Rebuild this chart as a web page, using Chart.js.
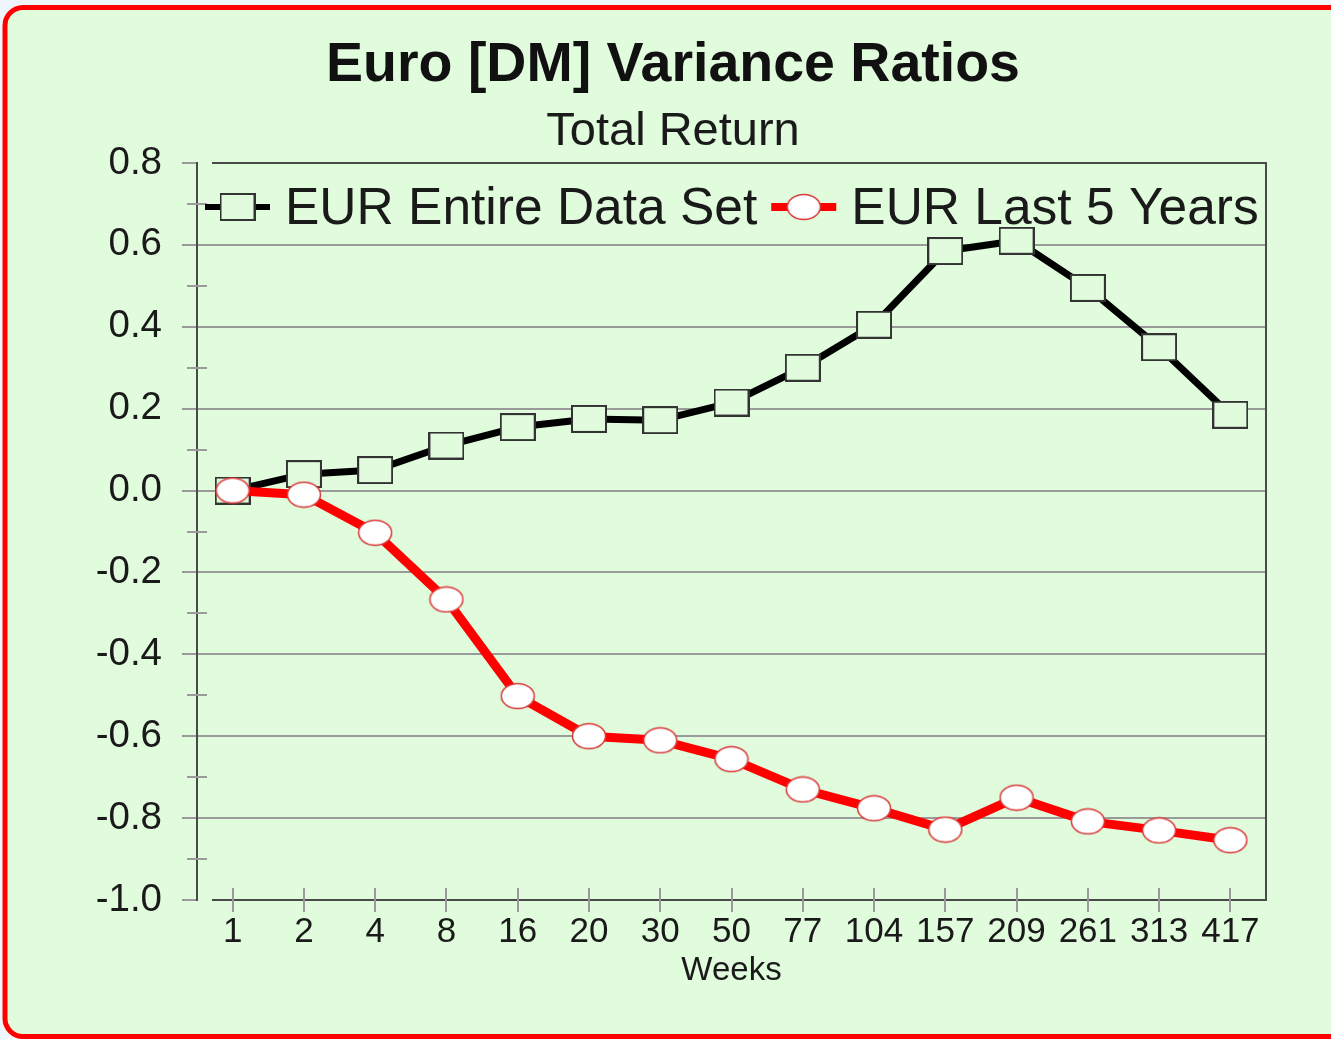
<!DOCTYPE html>
<html>
<head>
<meta charset="utf-8">
<script src="https://cdn.jsdelivr.net/npm/chart.js@4/dist/chart.umd.min.js"></script>
<style>
  html, body { margin: 0; padding: 0; overflow: hidden; background: #eef6fb; }
  #wrap { position: relative; width: 1331px; height: 1039px; }
</style>
</head>
<body>
<div id="wrap"><canvas id="c"></canvas></div>
<script>
// ---- data ----
const weeks = ['1','2','4','8','16','20','30','50','77','104','157','209','261','313','417'];
const entireDataSet = [0.00, 0.04, 0.05, 0.11, 0.155, 0.175, 0.172, 0.215, 0.30, 0.405, 0.585, 0.61, 0.495, 0.35, 0.185];
const last5Years   = [0.00, -0.01, -0.103, -0.266, -0.502, -0.60, -0.61, -0.656, -0.73, -0.776, -0.828, -0.75, -0.808, -0.83, -0.854];
const seriesLabels = ['EUR Entire Data Set', 'EUR Last 5 Years'];
const yMin = -1.0, yMax = 0.8, yStep = 0.2;
const yMinorTicks = [-0.9, -0.7, -0.5, -0.3, -0.1, 0.1, 0.3, 0.5, 0.7];
const chartTitle = 'Euro [DM] Variance Ratios';
const chartSubtitle = 'Total Return';
const xAxisTitle = 'Weeks';

const FONT = '"Liberation Sans", Arial, Helvetica, sans-serif';
Chart.defaults.font.family = FONT;
Chart.defaults.color = '#1a1a1a';

// marker images
function makeRect() {
  const c = document.createElement('canvas');
  c.width = 36; c.height = 28;
  const g = c.getContext('2d');
  g.fillStyle = '#e0fcdc';
  g.fillRect(1, 1, 34, 26);
  g.strokeStyle = '#333333';
  g.lineWidth = 2;
  g.strokeRect(1, 1, 34, 26);
  return c;
}
function makeEllipse() {
  const c = document.createElement('canvas');
  c.width = 36; c.height = 28;
  const g = c.getContext('2d');
  g.beginPath();
  g.ellipse(18, 14, 16.5, 12.5, 0, 0, Math.PI * 2);
  g.fillStyle = '#ffffff';
  g.fill();
  g.strokeStyle = '#d83a3a';
  g.lineWidth = 1.5;
  g.stroke();
  return c;
}
const rectImg = makeRect();
const ellImg = makeEllipse();

const GRID = '#9a9a9a';
const AXIS = '#4a4a4a';

const decor = {
  id: 'decor',
  beforeDraw(chart) {
    const { ctx, width } = chart;
    ctx.save();
    ctx.fillStyle = '#eef6fb';
    ctx.fillRect(0, 0, width, chart.height);
    const x0 = 5, y0 = 7.5, x1 = width + 40, y1 = 1036.5, r = 18;
    ctx.beginPath();
    ctx.moveTo(x0 + r, y0);
    ctx.lineTo(x1, y0);
    ctx.lineTo(x1, y1);
    ctx.lineTo(x0 + r, y1);
    ctx.arcTo(x0, y1, x0, y1 - r, r);
    ctx.lineTo(x0, y0 + r);
    ctx.arcTo(x0, y0, x0 + r, y0, r);
    ctx.closePath();
    ctx.fillStyle = '#e0fcdc';
    ctx.fill();
    ctx.strokeStyle = '#ff0000';
    ctx.lineWidth = 5;
    ctx.stroke();
    ctx.restore();
  },
  beforeDatasetsDraw(chart) {
    const { ctx, chartArea: a, scales } = chart;
    ctx.save();
    ctx.strokeStyle = AXIS;
    ctx.lineWidth = 2;
    ctx.beginPath();
    ctx.moveTo(a.left + 15, a.top); ctx.lineTo(a.right, a.top);
    ctx.lineTo(a.right, a.bottom); ctx.lineTo(a.left + 15, a.bottom);
    ctx.stroke();
    ctx.strokeStyle = GRID;
    ctx.beginPath();
    yMinorTicks.forEach(v => {
      const y = Math.round(scales.y.getPixelForValue(v));
      ctx.moveTo(a.left - 10, y); ctx.lineTo(a.left + 10, y);
    });
    weeks.forEach((w, i) => {
      const x = Math.round(scales.x.getPixelForValue(i));
      ctx.moveTo(x, a.bottom - 12); ctx.lineTo(x, a.bottom + 12);
    });
    ctx.stroke();
    ctx.restore();
  },
  afterDatasetsDraw(chart) {
    const { ctx, chartArea: a } = chart;
    ctx.save();
    ctx.font = '51.5px ' + FONT;
    ctx.textBaseline = 'alphabetic';
    ctx.fillStyle = '#1a1a1a';
    const cy = a.top + 44;
    const base = a.top + 61;
    let x = a.left + 8;
    chart.data.datasets.forEach((ds) => {
      ctx.strokeStyle = ds.borderColor;
      ctx.lineWidth = ds.borderWidth - 1;
      ctx.beginPath();
      ctx.moveTo(x, cy); ctx.lineTo(x + 65, cy);
      ctx.stroke();
      const img = ds.pointStyle;
      ctx.drawImage(img, x + 32.5 - img.width / 2, cy - img.height / 2);
      x += 80;
      ctx.fillText(ds.label, x, base);
      x += ctx.measureText(ds.label).width + 14;
    });
    ctx.restore();
  }
};

const isEdge = v => Math.abs(v - yMax) < 1e-6 || Math.abs(v - yMin) < 1e-6;

new Chart(document.getElementById('c'), {
  type: 'line',
  data: {
    labels: weeks,
    datasets: [
      {
        label: seriesLabels[0],
        data: entireDataSet,
        borderColor: '#000000',
        borderWidth: 7,
        pointStyle: rectImg,
        pointRadius: 14,
        tension: 0,
        borderJoinStyle: 'round',
        order: 1
      },
      {
        label: seriesLabels[1],
        data: last5Years,
        borderColor: '#ff0000',
        borderWidth: 9,
        pointStyle: ellImg,
        pointRadius: 14,
        tension: 0,
        borderJoinStyle: 'round',
        order: 0
      }
    ]
  },
  options: {
    responsive: true,
    maintainAspectRatio: false,
    animation: false,
    layout: { padding: { left: 80, right: 65, top: 0, bottom: 0 } },
    plugins: {
      legend: { display: false },
      tooltip: { enabled: false },
      title: {
        display: true,
        text: chartTitle,
        color: '#111111',
        font: { size: 55.5, weight: 'bold' },
        padding: { top: 32, bottom: 0 }
      },
      subtitle: {
        display: true,
        text: chartSubtitle,
        color: '#1a1a1a',
        font: { size: 47, weight: 'normal' },
        padding: { top: 5, bottom: 3 }
      }
    },
    scales: {
      x: {
        type: 'category',
        offset: true,
        grid: { display: false, drawTicks: false },
        border: { display: false },
        ticks: {
          autoSkip: false, maxRotation: 0, minRotation: 0,
          padding: 11,
          color: '#1a1a1a',
          font: { size: 35 }
        },
        title: {
          display: true,
          text: xAxisTitle,
          color: '#1a1a1a',
          font: { size: 33 },
          padding: { top: 0, bottom: 48 }
        },
        afterFit(s) { s.height = 139; }
      },
      y: {
        min: yMin, max: yMax,
        ticks: {
          stepSize: yStep,
          padding: 20,
          color: '#1a1a1a',
          font: { size: 38.5 },
          callback: v => (Math.abs(v) < 1e-9 ? 0 : v).toFixed(1)
        },
        grid: {
          drawTicks: true,
          tickLength: 15,
          lineWidth: 2,
          tickWidth: 2,
          color: ctx => (ctx.tick && isEdge(ctx.tick.value)) ? 'rgba(0,0,0,0)' : GRID,
          tickColor: GRID
        },
        border: { display: true, color: AXIS, width: 2 },
        afterFit(s) { s.width = 117; }
      }
    }
  },
  plugins: [decor]
});
</script>
</body>
</html>
